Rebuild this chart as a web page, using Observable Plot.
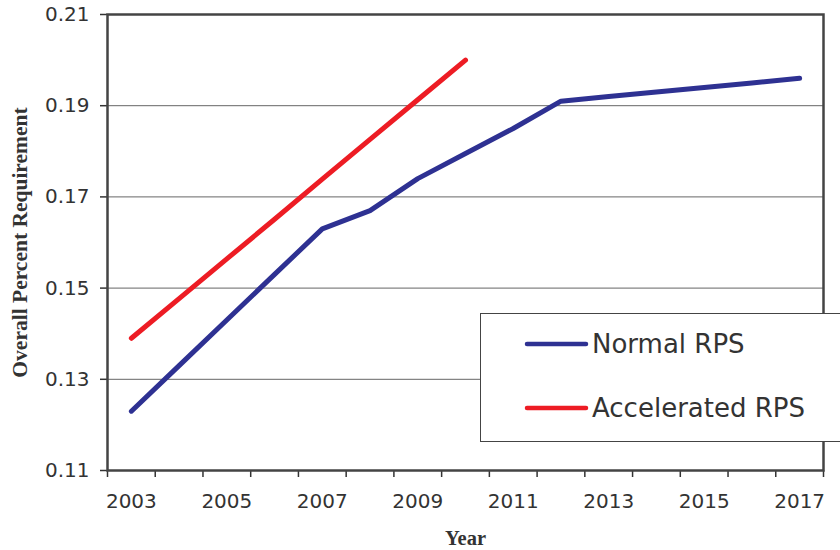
<!DOCTYPE html>
<html><head><meta charset="utf-8">
<script src="https://cdn.jsdelivr.net/npm/d3@7"></script>
<script src="https://cdn.jsdelivr.net/npm/@observablehq/plot@0.6"></script>
<style>body{margin:0;background:#fff}#chart{width:840px;height:550px}</style>
</head><body><div id="chart"></div>
<script>
const years = [2003,2004,2005,2006,2007,2008,2009,2010,2011,2012,2013,2014,2015,2016,2017];
const normalRPS = [0.123,0.133,0.143,0.153,0.163,0.167,0.174,0.1795,0.185,0.191,0.192,0.193,0.194,0.195,0.196];
const accelYears = [2003,2004,2005,2006,2007,2008,2009,2010];
const acceleratedRPS = [0.139,0.1477,0.1564,0.1651,0.1739,0.1826,0.1913,0.200];
const yTicks = [0.11,0.13,0.15,0.17,0.19,0.21];
const xLabelYears = [2003,2005,2007,2009,2011,2013,2015,2017];
const seriesNames = ["Normal RPS","Accelerated RPS"];
const seriesColors = ["#2E3192","#ED1C24"];
const yTitle = "Overall Percent Requirement";
const xTitle = "Year";

const normalData = years.map((yr,i)=>({year:yr, value:normalRPS[i]}));
const accelData = accelYears.map((yr,i)=>({year:yr, value:acceleratedRPS[i]}));
const bandEdges = years.map(y=>y-0.5).concat([years[years.length-1]+0.5]);

const plot = Plot.plot({
  width:840, height:550,
  marginLeft:107, marginRight:17, marginTop:14, marginBottom:80,
  style:{fontFamily:"DejaVu Sans", fontSize:"20px", color:"#333", background:"#fff", overflow:"visible"},
  x:{type:"linear", domain:[bandEdges[0], bandEdges[bandEdges.length-1]]},
  y:{domain:[yTicks[0], yTicks[yTicks.length-1]]},
  marks:[
    Plot.gridY(yTicks.slice(1,-1), {stroke:"#666", strokeOpacity:1, strokeWidth:1}),
    Plot.axisY(yTicks, {tickSize:7, tickPadding:11, tickFormat:d=>d.toFixed(2), fontSize:20, fill:"#333", stroke:"#333", strokeWidth:1.5, label:null}),
    Plot.axisX(bandEdges, {tickSize:7, tickFormat:()=>"", stroke:"#333", strokeWidth:1.5, label:null}),
    Plot.axisX(xLabelYears, {tickSize:0, tickPadding:23, tickFormat:d=>String(d), fontSize:20, fill:"#333", label:null}),
    Plot.frame({stroke:"#444", strokeWidth:2.5}),
    Plot.line(normalData, {x:"year", y:"value", stroke:seriesColors[0], strokeWidth:5, strokeLinecap:"round", strokeLinejoin:"round"}),
    Plot.line(accelData, {x:"year", y:"value", stroke:seriesColors[1], strokeWidth:5, strokeLinecap:"round", strokeLinejoin:"round"}),
    Plot.text([yTitle], {text:d=>d, frameAnchor:"left", textAnchor:"middle", dx:-87, rotate:-90, fontFamily:"Liberation Serif", fontWeight:"bold", fontSize:21.5, fill:"#333"}),
    Plot.text([xTitle], {text:d=>d, frameAnchor:"bottom", textAnchor:"middle", dy:74, fontFamily:"Liberation Serif", fontWeight:"bold", fontSize:20.5, fill:"#333"})
  ]
});
document.getElementById("chart").appendChild(plot);

// Legend
const svg = d3.select(plot);
const lg = svg.append("g");
lg.append("rect").attr("x",480.5).attr("y",313.5).attr("width",400).attr("height",128)
  .attr("fill","#fff").attr("stroke","#444").attr("stroke-width",1);
seriesNames.forEach((name,i)=>{
  const cy = 344 + i*64;
  lg.append("line").attr("x1",527).attr("x2",586).attr("y1",cy).attr("y2",cy)
    .attr("stroke",seriesColors[i]).attr("stroke-width",4.5).attr("stroke-linecap","round");
  lg.append("text").attr("x",592).attr("y",cy).attr("dy","0.36em")
    .attr("text-anchor","start")
    .attr("font-family","DejaVu Sans").attr("font-size",26).attr("fill","#333").text(name);
});
</script>
</body></html>
